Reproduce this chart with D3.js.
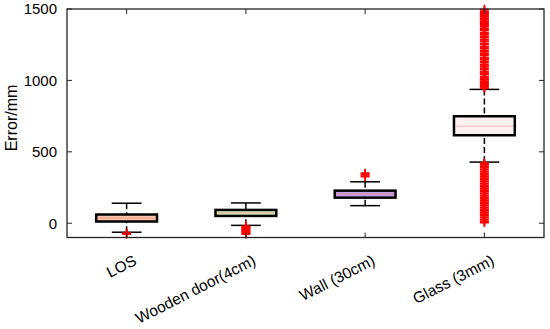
<!DOCTYPE html>
<html><head><meta charset="utf-8">
<script src="https://cdn.jsdelivr.net/npm/d3@7"></script>
<style>body{margin:0;background:#fff}svg{display:block}text{font-family:"Liberation Sans",Arial,sans-serif}</style>
</head><body><svg id="c" width="550" height="329"></svg>
<script>
const categories = ["LOS","Wooden door(4cm)","Wall (30cm)","Glass (3mm)"];
const q1 = [12, 51, 179, 616];
const medians = [35, 72, 205, 679];
const q3 = [61, 93, 228, 749];
const whiskerLow = [-63, -15, 123, 428];
const whiskerHigh = [140, 142, 290, 937];
const outliersLOS = [-70, -76];
const outliersWood = [-20, -27, -34, -41, -48, -55, -62, -69, -76];
const outliersWall = [327, 338, 350];
const outliersGlass = [5, 15, 27, 39, 51, 63, 75, 87, 99, 111, 123, 135, 147, 159, 171, 183, 195, 207, 219, 231, 243, 255, 267, 279, 291, 303, 315, 327, 339, 351, 363, 375, 387, 399, 411, 421,
  945, 955, 965, 975, 985, 995, 1005, 1015, 1025, 1040, 1050, 1060, 1075, 1085, 1100, 1110, 1125, 1135, 1150, 1160, 1175, 1185, 1200, 1210, 1225, 1235, 1250, 1260, 1275, 1285, 1300, 1310, 1325, 1335, 1350, 1360, 1375, 1385, 1395, 1405, 1415, 1425, 1435, 1445, 1455, 1465, 1475, 1485, 1498];
const outliers = [outliersLOS, outliersWood, outliersWall, outliersGlass];
const fills = ["#f8c3aa", "#d6e8bd", "#c49fdd", "#fcf0f1"];
const yTicks = [0, 500, 1000, 1500];

const svg = d3.select("#c");
const L = 67, R = 544, T = 9, B = 237.5;
const x = d3.scaleLinear().domain([0.5, 4.5]).range([L, R]);
const y = d3.scaleLinear().domain([-100, 1500]).range([B, T]);
const boxHalf = 0.255, capHalf = 0.125;

categories.forEach((c, i) => {
  const cx = x(i + 1);
  const g = svg.append("g");
  const dash = "6,3";
  g.append("line").attr("x1", cx).attr("x2", cx).attr("y1", y(whiskerHigh[i])).attr("y2", y(q3[i]))
    .attr("stroke", "#000").attr("stroke-width", 1.5).attr("stroke-dasharray", dash);
  g.append("line").attr("x1", cx).attr("x2", cx).attr("y1", y(whiskerLow[i])).attr("y2", y(q1[i]))
    .attr("stroke", "#000").attr("stroke-width", 1.5).attr("stroke-dasharray", dash);
  [whiskerHigh[i], whiskerLow[i]].forEach(v => {
    g.append("line").attr("x1", x(i + 1 - capHalf)).attr("x2", x(i + 1 + capHalf))
      .attr("y1", y(v)).attr("y2", y(v)).attr("stroke", "#000").attr("stroke-width", 1.5);
  });
  g.append("rect").attr("x", x(i + 1 - boxHalf)).attr("width", x(i + 1 + boxHalf) - x(i + 1 - boxHalf))
    .attr("y", y(q3[i])).attr("height", y(q1[i]) - y(q3[i]))
    .attr("fill", fills[i]).attr("stroke", "#000").attr("stroke-width", 2.5);
  g.append("line").attr("x1", x(i + 1 - boxHalf) + 1.5).attr("x2", x(i + 1 + boxHalf) - 1.5)
    .attr("y1", y(medians[i])).attr("y2", y(medians[i])).attr("stroke", "#f07070")
    .attr("stroke-opacity", 0.45).attr("stroke-width", 1);
  outliers[i].forEach(v => {
    const py = y(v);
    g.append("path").attr("d", `M${cx - 4.5},${py}H${cx + 4.5}M${cx},${py - 4.5}V${py + 4.5}`)
      .attr("stroke", "#ff0000").attr("stroke-width", 1.8).attr("fill", "none");
  });
});

const axisColor = "#262626";
svg.append("rect").attr("x", L).attr("y", T).attr("width", R - L).attr("height", B - T)
  .attr("fill", "none").attr("stroke", axisColor).attr("stroke-width", 1.3);

yTicks.forEach(t => {
  svg.append("line").attr("x1", L).attr("x2", L + 5).attr("y1", y(t)).attr("y2", y(t)).attr("stroke", axisColor);
  svg.append("line").attr("x1", R).attr("x2", R - 5).attr("y1", y(t)).attr("y2", y(t)).attr("stroke", axisColor);
  svg.append("text").attr("x", L - 10).attr("y", y(t)).attr("dy", "0.36em").attr("text-anchor", "end")
    .attr("font-size", 15).attr("fill", "#000").text(t);
});
categories.forEach((c, i) => {
  const cx = x(i + 1);
  svg.append("line").attr("x1", cx).attr("x2", cx).attr("y1", B).attr("y2", B - 5).attr("stroke", axisColor);
  svg.append("line").attr("x1", cx).attr("x2", cx).attr("y1", T).attr("y2", T + 5).attr("stroke", axisColor);
  svg.append("text").attr("transform", `translate(${cx + 11},${264}) rotate(-27)`)
    .attr("text-anchor", "end").attr("font-size", 15.5).attr("fill", "#000").text(c);
});
svg.append("text").attr("transform", "translate(17,118) rotate(-90)").attr("text-anchor", "middle")
  .attr("font-size", 16).attr("fill", "#000").text("Error/mm");
</script></body></html>
